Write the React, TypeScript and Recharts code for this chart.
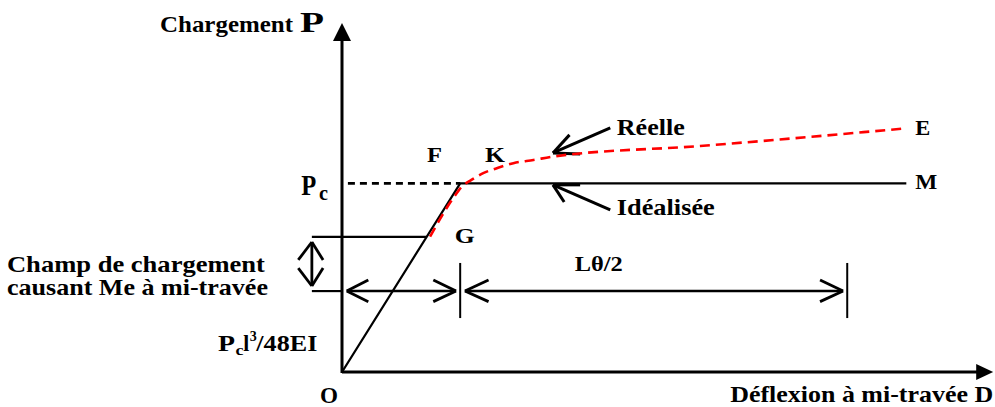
import { ComposedChart, Line, XAxis, YAxis, ReferenceLine, ReferenceDot } from 'recharts'

// Load–deflection diagram: deflection D on x, load P on y (Pc = 100)
const idealized = [
  { d: 0, p: 0 },
  { d: 20, p: 100 },
  { d: 95.5, p: 100 },
]

const reelle = [
  { d: 14.9, p: 71.7 },
  { d: 18.8, p: 92.1 },
  { d: 20.3, p: 98.3 },
  { d: 21.9, p: 101.8 },
  { d: 23.9, p: 105.4 },
  { d: 26.2, p: 108.0 },
  { d: 29.0, p: 110.7 },
  { d: 32.4, p: 112.4 },
  { d: 35.8, p: 114.2 },
  { d: 60.6, p: 119.8 },
  { d: 95.6, p: 129.2 },
]

const PC = 100
const P_G = 71.6
const P_DIM = 42.9

// text pieces: anchor (left, baseline) in data units
const labels = [
  { t: 'Chargement', d: -30.8, p: 180.3, size: 23, w: 133 },
  { t: 'P', d: -7.1, p: 180.3, size: 30, w: 24 },
  { t: 'Déflexion à mi-travée D', d: 65.7, p: -15.9, size: 23, w: 263 },
  { t: 'P', d: -6.9, p: 93.8, size: 30, w: 15 },
  { t: 'c', d: -3.9, p: 91.2, size: 20, w: 9 },
  { t: 'P', d: -21.0, p: 11.1, size: 23, w: 17 },
  { t: 'c', d: -18.0, p: 9.0, size: 15, w: 8 },
  { t: 'l', d: -16.7, p: 11.1, size: 23, w: 6 },
  { t: '3', d: -15.6, p: 16.4, size: 15, w: 7 },
  { t: '/48EI', d: -14.5, p: 11.1, size: 23, w: 61 },
  { t: 'O', d: -3.7, p: -16.4, size: 23, w: 18 },
  { t: 'Champ de chargement', d: -56.7, p: 53.0, size: 23, w: 258 },
  { t: 'causant Me à mi-travée', d: -56.7, p: 40.8, size: 23, w: 261 },
  { t: 'Réelle', d: 46.5, p: 125.7, size: 23, w: 68 },
  { t: 'Idéalisée', d: 46.5, p: 83.2, size: 23, w: 98 },
  { t: 'Lθ/2', d: 39.4, p: 53.6, size: 22, w: 48 },
  { t: 'F', d: 14.4, p: 111.3, size: 22, w: 15 },
  { t: 'K', d: 24.2, p: 111.3, size: 22, w: 20 },
  { t: 'G', d: 19.1, p: 68.4, size: 22, w: 20 },
  { t: 'E', d: 97.0, p: 125.7, size: 22, w: 15 },
  { t: 'M', d: 97.0, p: 97.0, size: 22, w: 22 },
]

type Pt = { d: number; p: number }
type Seg = { a: Pt; b: Pt; w: number; dash?: string }

// helper lines, dimension arrows and pointers
const segments: Seg[] = [
  // y axis and x axis shafts
  { a: { d: 0, p: -0.5 }, b: { d: 0, p: 176 }, w: 3 },
  { a: { d: 0, p: 0 }, b: { d: 107.5, p: 0 }, w: 3 },
  // Pc dashed level
  { a: { d: 1, p: PC }, b: { d: 20, p: PC }, w: 2.6, dash: '7 5' },
  // G level and lower limit of the load range
  { a: { d: -5.1, p: P_G }, b: { d: 14.3, p: P_G }, w: 2.2 },
  { a: { d: -5.1, p: P_DIM }, b: { d: 0, p: P_DIM }, w: 2.2 },
  // vertical double arrow
  { a: { d: -5.1, p: 68.9 }, b: { d: -5.1, p: 45.6 }, w: 2.8 },
  { a: { d: -5.1, p: 68.9 }, b: { d: -7.4, p: 59.4 }, w: 2.8 },
  { a: { d: -5.1, p: 68.9 }, b: { d: -3.2, p: 59.4 }, w: 2.8 },
  { a: { d: -5.1, p: 45.6 }, b: { d: -7.4, p: 55.1 }, w: 2.8 },
  { a: { d: -5.1, p: 45.6 }, b: { d: -3.2, p: 55.1 }, w: 2.8 },
  // elastic deflection arrow
  { a: { d: 0.8, p: P_DIM }, b: { d: 19.3, p: P_DIM }, w: 2.5 },
  { a: { d: 0.8, p: P_DIM }, b: { d: 4.45, p: 48.8 }, w: 2.8 },
  { a: { d: 0.8, p: P_DIM }, b: { d: 4.45, p: 37.3 }, w: 2.8 },
  { a: { d: 19.3, p: P_DIM }, b: { d: 15.45, p: 48.8 }, w: 2.8 },
  { a: { d: 19.3, p: P_DIM }, b: { d: 15.45, p: 37.3 }, w: 2.8 },
  // ticks
  { a: { d: 20, p: 57.8 }, b: { d: 20, p: 28.6 }, w: 2 },
  { a: { d: 85.5, p: 57.8 }, b: { d: 85.5, p: 28.6 }, w: 2 },
  // plastic deflection arrow L theta / 2
  { a: { d: 20.8, p: P_DIM }, b: { d: 84.8, p: P_DIM }, w: 2.5 },
  { a: { d: 20.8, p: P_DIM }, b: { d: 24.8, p: 48.8 }, w: 2.8 },
  { a: { d: 20.8, p: P_DIM }, b: { d: 24.8, p: 37.3 }, w: 2.8 },
  { a: { d: 84.8, p: P_DIM }, b: { d: 80.9, p: 48.8 }, w: 2.8 },
  { a: { d: 84.8, p: P_DIM }, b: { d: 80.9, p: 37.3 }, w: 2.8 },
  // pointer to the real curve
  { a: { d: 45.4, p: 129.4 }, b: { d: 35.7, p: 116.1 }, w: 3 },
  { a: { d: 35.7, p: 116.1 }, b: { d: 38.5, p: 125.7 }, w: 3 },
  { a: { d: 35.7, p: 116.1 }, b: { d: 40.3, p: 115.6 }, w: 3 },
  // pointer to the idealized curve
  { a: { d: 45.4, p: 85.9 }, b: { d: 35.7, p: 99.2 }, w: 3 },
  { a: { d: 35.7, p: 99.2 }, b: { d: 40.3, p: 99.2 }, w: 3 },
  { a: { d: 35.7, p: 99.2 }, b: { d: 37.6, p: 90.1 }, w: 3 },
]

const FONT = '"Liberation Serif", "Times New Roman", Times, serif'

function AxisHead({ cx, cy, dir }: any) {
  if (cx == null || cy == null) return null
  const pts = dir === 'up'
    ? `${cx},${cy} ${cx - 9},${cy + 18} ${cx + 9},${cy + 18}`
    : `${cx},${cy} ${cx - 17},${cy - 8} ${cx - 17},${cy + 8}`
  return <polygon points={pts} fill="#000" />
}

export default function App() {
  return (
    <div style={{ position: 'absolute', left: 0, top: 0, width: 995, height: 407, background: '#fff' }}>
      <ComposedChart width={995} height={407} margin={{ top: 23, right: 3, bottom: 35, left: 342 }}>
        <XAxis type="number" dataKey="d" domain={[0, 110]} hide allowDataOverflow />
        <YAxis type="number" dataKey="p" domain={[0, 185]} hide allowDataOverflow />

        {segments.map((s, i) => (
          <ReferenceLine
            key={`s${i}`}
            segment={[{ x: s.a.d, y: s.a.p }, { x: s.b.d, y: s.b.p }]}
            stroke="#000"
            strokeWidth={s.w}
            strokeDasharray={s.dash}
            strokeLinecap="butt"
            ifOverflow="visible"
          />
        ))}

        <ReferenceDot x={0} y={185} r={0} ifOverflow="visible"
          shape={(p: any) => <AxisHead {...p} dir="up" />} />
        <ReferenceDot x={110.2} y={0} r={0} ifOverflow="visible"
          shape={(p: any) => <AxisHead {...p} dir="right" />} />

        <Line
          data={idealized}
          dataKey="p"
          type="linear"
          stroke="#000"
          strokeWidth={2.2}
          dot={false}
          activeDot={false}
          isAnimationActive={false}
        />
        <Line
          data={reelle}
          dataKey="p"
          type="monotone"
          stroke="#ff0000"
          strokeWidth={2.6}
          strokeDasharray="10 6"
          dot={false}
          activeDot={false}
          isAnimationActive={false}
        />

        {labels.map((l, i) => (
          <ReferenceDot
            key={`l${i}`}
            x={l.d}
            y={l.p}
            r={0}
            ifOverflow="visible"
            shape={(p: any) => (
              <text
                x={p.cx}
                y={p.cy}
                fontFamily={FONT}
                fontWeight="bold"
                fontSize={l.size}
                fill="#000"
                textLength={l.w}
                lengthAdjust="spacingAndGlyphs"
              >
                {l.t}
              </text>
            )}
          />
        ))}
      </ComposedChart>
    </div>
  )
}
